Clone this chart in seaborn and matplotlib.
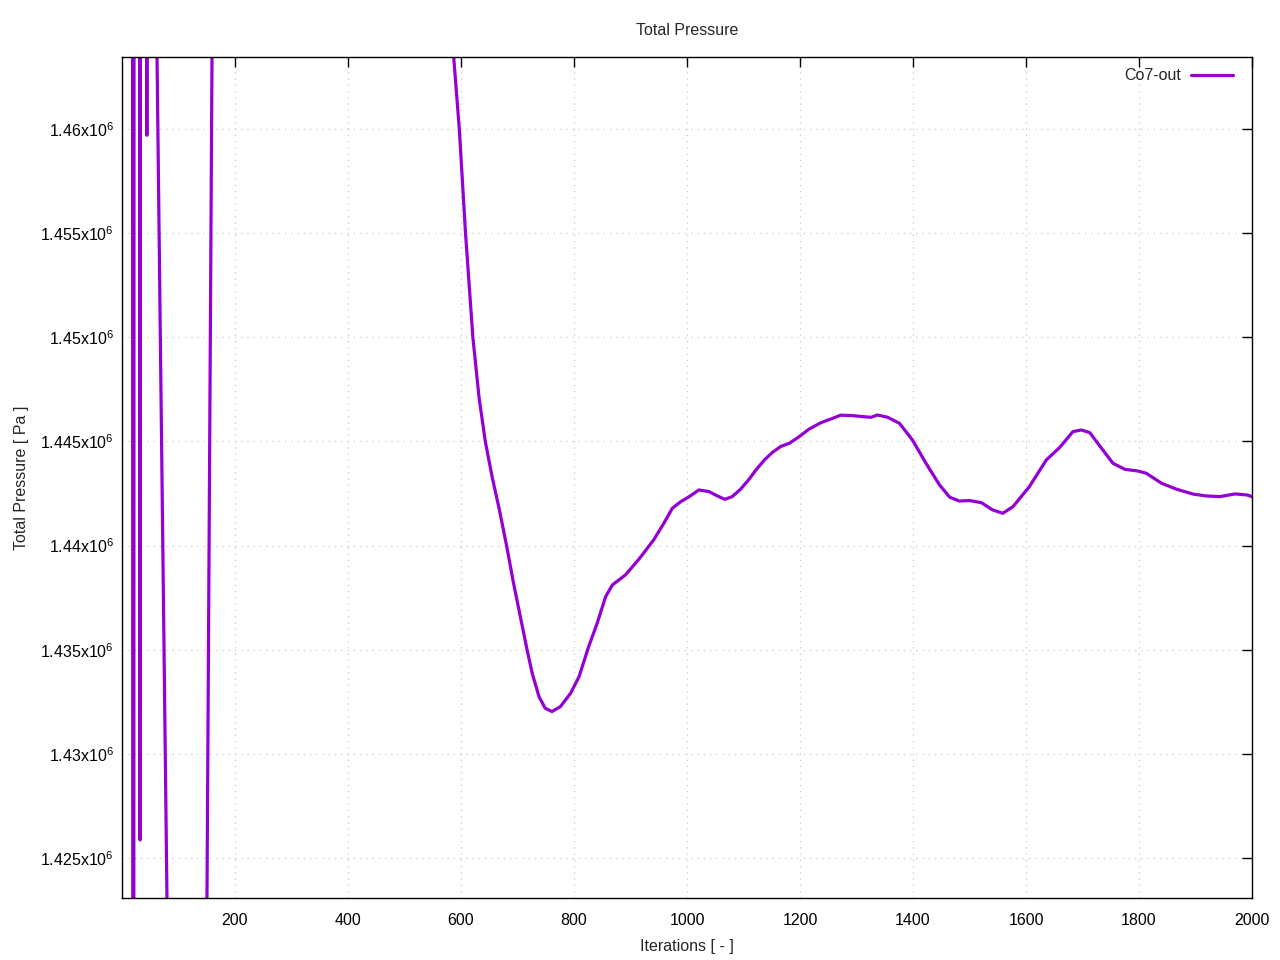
import numpy as np
import pandas as pd
import matplotlib
matplotlib.use("Agg")
import matplotlib.pyplot as plt
import seaborn as sns

# iterations and total pressure (values outside the
# y-range are there so the early spikes run off the frame like in the original)
iterations = [1, 18, 20, 22, 30, 32, 34, 42, 44, 46, 55, 85, 145, 165, 300, 580,
              587, 597, 608, 621, 632, 643, 655, 668, 681, 693, 705, 717, 726,
              738, 749, 761, 776, 794, 809, 826, 841, 856, 868, 891, 915, 941,
              959, 974, 989, 1004, 1021, 1039, 1054, 1067, 1080, 1095, 1110,
              1122, 1137, 1151, 1166, 1181, 1196, 1216, 1237, 1255, 1272, 1293,
              1311, 1326, 1337, 1355, 1376, 1399, 1423, 1447, 1465, 1482, 1500,
              1521, 1541, 1559, 1577, 1606, 1636, 1660, 1683, 1698, 1713, 1730,
              1754, 1775, 1798, 1813, 1840, 1866, 1896, 1920, 1943, 1970, 1991,
              2000]
pressure = [1.58e6, 1.56e6, 1.30e6, 1.56e6, 1.55e6, 1.425864e6, 1.55e6, 1.50e6,
            1.4597e6, 1.50e6, 1.47948e6, 1.41069e6, 1.39858e6, 1.48932e6, 1.50e6,
            1.4659e6,
            1.46347e6, 1.46000e6, 1.45500e6, 1.45000e6, 1.44710e6, 1.44500e6,
            1.44331e6, 1.44171e6, 1.43995e6, 1.43819e6, 1.43659e6, 1.43499e6,
            1.43387e6, 1.43275e6, 1.43219e6, 1.43203e6, 1.43227e6, 1.43291e6,
            1.43371e6, 1.43515e6, 1.43627e6, 1.43755e6, 1.43811e6, 1.43859e6,
            1.43935e6, 1.44027e6, 1.44107e6, 1.44179e6, 1.44211e6, 1.44235e6,
            1.44267e6, 1.44259e6, 1.44238e6, 1.44222e6, 1.44235e6, 1.44271e6,
            1.44319e6, 1.44363e6, 1.44411e6, 1.44447e6, 1.44476e6, 1.44491e6,
            1.44518e6, 1.44559e6, 1.44590e6, 1.44608e6, 1.44626e6, 1.44624e6,
            1.44619e6, 1.44616e6, 1.44627e6, 1.44616e6, 1.44587e6, 1.44507e6,
            1.44395e6, 1.44291e6, 1.44232e6, 1.44214e6, 1.44216e6, 1.44206e6,
            1.44171e6, 1.44155e6, 1.44187e6, 1.44283e6, 1.44411e6, 1.44472e6,
            1.44547e6, 1.44555e6, 1.44542e6, 1.44480e6, 1.44395e6, 1.44366e6,
            1.44358e6, 1.44347e6, 1.44299e6, 1.44271e6, 1.44247e6, 1.44238e6,
            1.44235e6, 1.44248e6, 1.44243e6, 1.44235e6]

xticks = [200, 400, 600, 800, 1000, 1200, 1400, 1600, 1800, 2000]
yticks = [1.425e6, 1.43e6, 1.435e6, 1.44e6, 1.445e6, 1.45e6, 1.455e6, 1.46e6]
ytick_labels = ['1.425x10$^{6}$', '1.43x10$^{6}$', '1.435x10$^{6}$', '1.44x10$^{6}$',
                '1.445x10$^{6}$', '1.45x10$^{6}$', '1.455x10$^{6}$', '1.46x10$^{6}$']

df = pd.DataFrame({'iter': iterations, 'p': pressure})

sns.set_theme(style="white")
plt.rcParams['font.family'] = ['Liberation Sans', 'DejaVu Sans']
plt.rcParams['mathtext.fontset'] = 'custom'
plt.rcParams['mathtext.rm'] = 'Liberation Sans'

f = plt.figure(figsize=(12.8, 9.6), dpi=100)
ax = f.add_axes([122/1280, 1-898/960, (1252-122)/1280, (898-57)/960])

sns.lineplot(data=df, x='iter', y='p', color='#9400d3', linewidth=2.3,
             label='Co7-out', ax=ax, sort=False)

ax.set_xlim(0, 2000)
ax.set_ylim(1.42308e6, 1.463456e6)
ax.set_xticks(xticks)
ax.set_yticks(yticks)
ax.set_yticklabels(ytick_labels)
ax.tick_params(direction='in', length=7, width=1, color='black', labelsize=11.5,
               top=True, right=True, labelcolor='black')
ax.tick_params(axis='x', pad=11)
ax.tick_params(axis='y', pad=6)
ax.grid(True, color='#c8c8c8', linestyle=(0, (1, 4)), linewidth=0.9)
for s in ax.spines.values():
    s.set_color('black')
    s.set_linewidth(1)

ax.set_title('Total Pressure', fontsize=11.5, pad=16)
ax.set_xlabel('Iterations [ - ]', fontsize=11.5, labelpad=8)
ax.set_ylabel('Total Pressure [ Pa ]', fontsize=11.5, labelpad=8)

ax.legend(loc='upper right', frameon=False, markerfirst=False, fontsize=11.5,
          handlelength=2.64, handletextpad=0.6, borderaxespad=0.4,
          bbox_to_anchor=(0.9947, 1.002))

f.savefig('out.png', dpi=100)
